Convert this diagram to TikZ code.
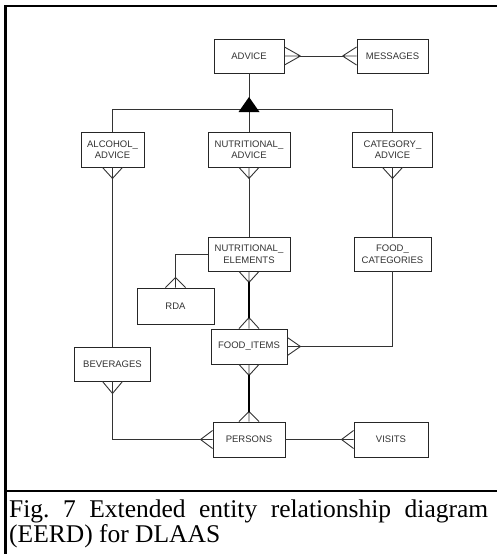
\documentclass[tikz,border=0pt]{standalone}
\usepackage{fontspec}
\setmainfont{Liberation Serif}
\newfontfamily\boxfont{Liberation Sans}
\usetikzlibrary{calc}

\tikzset{
  entity/.style={draw=black!85, line width=0.9pt, fill=white, inner sep=0pt,
    align=center, text=black!80, font=\boxfont\fontsize{9.5}{11.5}\selectfont},
  conn/.style={draw=black!80, line width=0.9pt},
  strong/.style={draw=black, line width=1.6pt},
  frame/.style={draw=black, line width=2.2pt},
  caption/.style={anchor=base west, inner sep=0pt, font=\fontsize{25.5}{28}\selectfont},
}

% crow's foot: #2 tip, #3 anchor on the box edge, #4 half-spread vector
\newcommand\crowfoot[4][conn]{%
  \draw[#1] (#2) -- ($(#3)+(#4)$) (#2) -- (#3) (#2) -- ($(#3)-(#4)$);}

\begin{document}
\begin{tikzpicture}[x=1pt, y=-1pt]
\useasboundingbox (0,0) rectangle (497,554);

% outer frame and caption separator
\coordinate (tl) at (5.5,6);
\coordinate (tr) at (497,6);
\coordinate (bl) at (5.5,554);
\coordinate (sl) at (5.5,491);
\coordinate (sr) at (497,491);
\draw[frame] (bl) -- (tl) -- (tr);
\draw[frame] (sl) -- (sr);

% entities
\node[entity, minimum width=70pt, minimum height=34pt] (advice)    at (249,56)    {ADVICE};
\node[entity, minimum width=71pt, minimum height=34pt] (messages)  at (392.5,56)  {MESSAGES};
\node[entity, minimum width=63pt, minimum height=35pt] (alcohol)   at (112.5,149.5) {ALCOHOL\_\\ADVICE};
\node[entity, minimum width=82pt, minimum height=35pt] (nutadv)    at (249,149.5) {NUTRITIONAL\_\\ADVICE};
\node[entity, minimum width=80pt, minimum height=35pt] (catadv)    at (392.5,149.5) {CATEGORY\_\\ADVICE};
\node[entity, minimum width=82pt, minimum height=34pt] (nutel)     at (249,254)   {NUTRITIONAL\_\\ELEMENTS};
\node[entity, minimum width=77pt, minimum height=34pt] (foodcat)   at (392.5,254) {FOOD\_\\CATEGORIES};
\node[entity, minimum width=77pt, minimum height=36pt] (rda)       at (175.5,306) {RDA};
\node[entity, minimum width=76pt, minimum height=35pt] (fooditems) at (249,346.5) {FOOD\_ITEMS};
\node[entity, minimum width=76pt, minimum height=34pt] (beverages) at (112.5,364) {BEVERAGES};
\node[entity, minimum width=72pt, minimum height=35pt] (persons)   at (249,439.5) {PERSONS};
\node[entity, minimum width=74pt, minimum height=35pt] (visits)    at (391,439.5) {VISITS};

% ADVICE -- MESSAGES (many to many)
\coordinate (advR) at ($(advice.east)+(16,0)$);
\coordinate (msgL) at ($(messages.west)+(-14,0)$);
\crowfoot{advR}{advice.east}{0,9}
\crowfoot{msgL}{messages.west}{0,9}
\draw[conn] (advR) -- (msgL);

% generalisation of ADVICE into its three subtypes
\coordinate (isa) at (249,109);
\coordinate (triTop) at (249,97);
\coordinate (triL) at (238.5,112);
\coordinate (triR) at (259.5,112);
\draw[conn] (advice.south) -- (nutadv.north);
\draw[conn] (alcohol.north) -- (alcohol.north |- isa) -- (catadv.north |- isa) -- (catadv.north);
\fill[black] (triTop) -- (triL) -- (triR) -- cycle;

% subtypes down to their entities
\coordinate (alcB) at ($(alcohol.south)+(0,11)$);
\coordinate (nadB) at ($(nutadv.south)+(0,11)$);
\coordinate (catB) at ($(catadv.south)+(0,11)$);
\crowfoot{alcB}{alcohol.south}{10,0}
\crowfoot{nadB}{nutadv.south}{10,0}
\crowfoot{catB}{catadv.south}{10,0}
\draw[conn] (alcB) -- (beverages.north);
\draw[conn] (nadB) -- (nutel.north);
\draw[conn] (catB) -- (foodcat.north);

% NUTRITIONAL_ELEMENTS -- RDA
\coordinate (rdaT) at ($(rda.north)+(0,-10)$);
\crowfoot{rdaT}{rda.north}{10,0}
\draw[conn] (nutel.west) -| (rdaT);

% NUTRITIONAL_ELEMENTS -- FOOD_ITEMS (many to many)
\coordinate (nelB) at ($(nutel.south)+(0,11)$);
\coordinate (fiT) at ($(fooditems.north)+(0,-11)$);
\crowfoot{nelB}{nutel.south}{10,0}
\crowfoot{fiT}{fooditems.north}{10,0}
\draw[strong] (nelB) -- (fiT);

% FOOD_ITEMS -- FOOD_CATEGORIES
\coordinate (fiR) at ($(fooditems.east)+(13,0)$);
\crowfoot{fiR}{fooditems.east}{0,9}
\draw[conn] (fiR) -| (foodcat.south);

% FOOD_ITEMS -- PERSONS (many to many)
\coordinate (fiB) at ($(fooditems.south)+(0,11)$);
\coordinate (perT) at ($(persons.north)+(0,-10)$);
\crowfoot{fiB}{fooditems.south}{10,0}
\crowfoot{perT}{persons.north}{10,0}
\draw[strong] (fiB) -- (perT);

% BEVERAGES -- PERSONS
\coordinate (bevB) at ($(beverages.south)+(0,12)$);
\coordinate (perL) at ($(persons.west)+(-12,0)$);
\crowfoot{bevB}{beverages.south}{10,0}
\crowfoot{perL}{persons.west}{0,9}
\draw[conn] (bevB) |- (perL);

% PERSONS -- VISITS
\coordinate (visL) at ($(visits.west)+(-12,0)$);
\crowfoot{visL}{visits.west}{0,9}
\draw[conn] (persons.east) -- (visL);

% caption
\node[caption] (cap1) at (9,517)
  {\frenchspacing\makebox[479pt][s]{Fig. 7 Extended entity relationship diagram}};
\node[caption] (cap2) at (9,542)
  {(EERD) for DLAAS};
\end{tikzpicture}
\end{document}
